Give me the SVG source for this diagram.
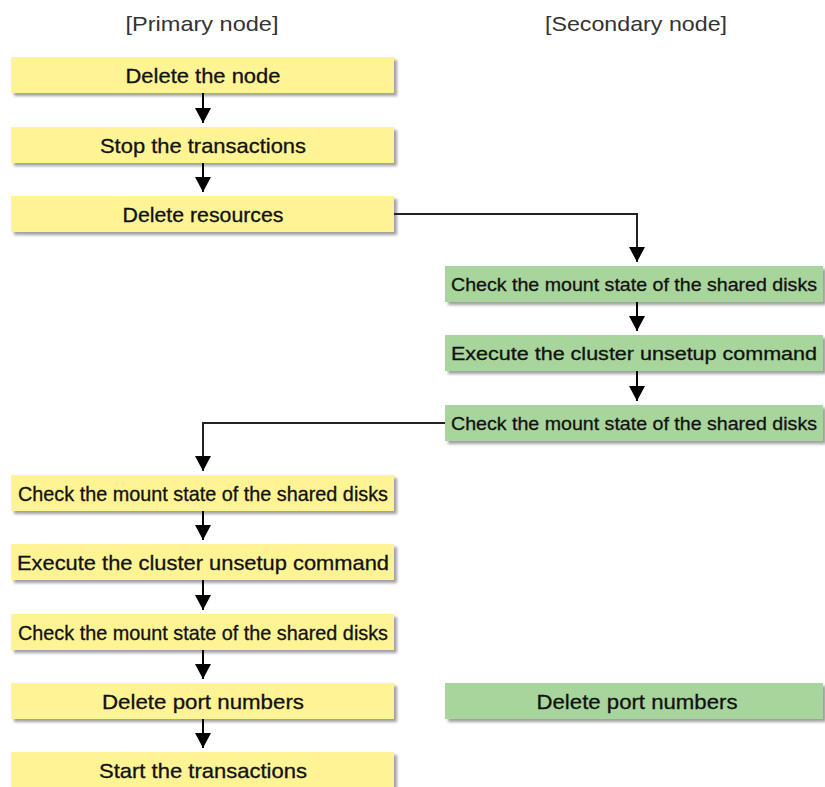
<svg xmlns="http://www.w3.org/2000/svg" width="825" height="787" viewBox="0 0 825 787">
<defs>
<filter id="sh" x="-5%" y="-20%" width="115%" height="160%">
<feDropShadow dx="3" dy="3" stdDeviation="1.5" flood-color="#888" flood-opacity="0.8"/>
</filter>
<marker id="ah" markerWidth="15" markerHeight="16" refX="15" refY="8" orient="auto" markerUnits="userSpaceOnUse" viewBox="0 0 15 16">
<path d="M0,0 L15,8 L0,16 Z" fill="#000"/>
</marker>
<style>
.y{fill:#FFF494;filter:url(#sh)}
.g{fill:#A8D59B;filter:url(#sh)}
.t{font-family:"Liberation Sans Narrow","Liberation Sans",Arial,sans-serif;font-size:21px;fill:#111;text-anchor:middle;stroke:#111;stroke-width:0.3}
.s{font-size:19px}
.h{font-family:"Liberation Sans",Arial,sans-serif;font-size:21px;fill:#333;text-anchor:middle}
.c{fill:none;stroke:#000;stroke-width:2}
.c2{fill:none;stroke:#222;stroke-width:2}
</style>
</defs>
<rect width="825" height="787" fill="#fff"/>
<text class="h" x="202" y="31" textLength="153" lengthAdjust="spacingAndGlyphs">[Primary node]</text>
<text class="h" x="636" y="31" textLength="182" lengthAdjust="spacingAndGlyphs">[Secondary node]</text>

<g id="p1"><rect class="y" x="11" y="57" width="383" height="36"/><text class="t" x="203" y="83" textLength="155" lengthAdjust="spacingAndGlyphs">Delete the node</text></g>
<g id="p2"><rect class="y" x="11" y="127" width="383" height="36"/><text class="t" x="203" y="153" textLength="206" lengthAdjust="spacingAndGlyphs">Stop the transactions</text></g>
<g id="p3"><rect class="y" x="11" y="196" width="383" height="36"/><text class="t" x="203" y="222" textLength="161" lengthAdjust="spacingAndGlyphs">Delete resources</text></g>
<g id="s1"><rect class="g" x="445" y="266" width="378" height="36"/><text class="t s" x="634" y="291" textLength="366" lengthAdjust="spacingAndGlyphs">Check the mount state of the shared disks</text></g>
<g id="s2"><rect class="g" x="445" y="335" width="378" height="36"/><text class="t s" x="634" y="360" textLength="366" lengthAdjust="spacingAndGlyphs">Execute the cluster unsetup command</text></g>
<g id="s3"><rect class="g" x="445" y="405" width="378" height="36"/><text class="t s" x="634" y="430" textLength="366" lengthAdjust="spacingAndGlyphs">Check the mount state of the shared disks</text></g>
<g id="p4"><rect class="y" x="11" y="475" width="383" height="36"/><text class="t" x="203" y="501" textLength="370" lengthAdjust="spacingAndGlyphs">Check the mount state of the shared disks</text></g>
<g id="p5"><rect class="y" x="11" y="544" width="383" height="36"/><text class="t" x="203" y="570" textLength="372" lengthAdjust="spacingAndGlyphs">Execute the cluster unsetup command</text></g>
<g id="p6"><rect class="y" x="11" y="614" width="383" height="36"/><text class="t" x="203" y="640" textLength="370" lengthAdjust="spacingAndGlyphs">Check the mount state of the shared disks</text></g>
<g id="p7"><rect class="y" x="11" y="683" width="383" height="36"/><text class="t" x="203" y="709" textLength="202" lengthAdjust="spacingAndGlyphs">Delete port numbers</text></g>
<g id="s4"><rect class="g" x="445" y="683" width="378" height="36"/><text class="t" x="637" y="709" textLength="201" lengthAdjust="spacingAndGlyphs">Delete port numbers</text></g>
<g id="p8"><rect class="y" x="11" y="752" width="383" height="36"/><text class="t" x="203" y="778" textLength="208" lengthAdjust="spacingAndGlyphs">Start the transactions</text></g>

<g id="connectors">
<path class="c" d="M203,93 V123" marker-end="url(#ah)"/>
<path class="c" d="M203,163 V192" marker-end="url(#ah)"/>
<path class="c2" d="M394,214 H637 V262" marker-end="url(#ah)"/>
<path class="c" d="M637,302 V331" marker-end="url(#ah)"/>
<path class="c" d="M637,371 V401" marker-end="url(#ah)"/>
<path class="c2" d="M445,423 H203 V471" marker-end="url(#ah)"/>
<path class="c" d="M203,511 V540" marker-end="url(#ah)"/>
<path class="c" d="M203,580 V610" marker-end="url(#ah)"/>
<path class="c" d="M203,650 V679" marker-end="url(#ah)"/>
<path class="c" d="M203,719 V748" marker-end="url(#ah)"/>
</g>
</svg>
